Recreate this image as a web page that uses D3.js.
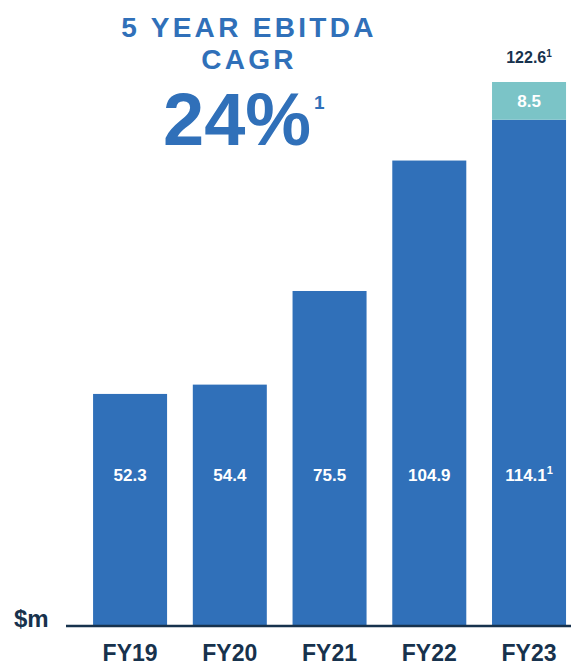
<!DOCTYPE html>
<html>
<head>
<meta charset="utf-8">
<script src="https://cdn.jsdelivr.net/npm/d3@7"></script>
<style>
  html, body { margin: 0; padding: 0; background: #ffffff; }
  svg { display: block; font-family: "Liberation Sans", Arial, Helvetica, sans-serif; }
</style>
</head>
<body>
<svg id="chart" width="571" height="666"></svg>
<script>
// EBITDA by financial year, $m
const categories = ["FY19", "FY20", "FY21", "FY22", "FY23"];
const baseValues = [52.3, 54.4, 75.5, 104.9, 114.1];
const topValues = [0, 0, 0, 0, 8.5];
const baseNotes = ["", "", "", "", "1"];
const totalNotes = ["", "", "", "", "1"];
const unitLabel = "$m";
const titleLines = ["5 YEAR EBITDA", "CAGR"];
const headline = "24%";
const headlineNote = "1";

const BLUE = "#3070b9";
const TEAL = "#7bc4c7";
const NAVY = "#17324d";

const svg = d3.select("#chart");
const baseline = 626;

const x = d3.scaleBand()
  .domain(categories)
  .range([80.2, 578.9])
  .paddingInner(0.258)
  .paddingOuter(0.129);

const y = d3.scaleLinear()
  .domain([0, 122.6])
  .range([baseline, 82]);

const rows = categories.map((c, i) => ({
  cat: c,
  base: baseValues[i],
  top: topValues[i],
  total: +(baseValues[i] + topValues[i]).toFixed(1),
  baseNote: baseNotes[i],
  totalNote: totalNotes[i]
}));

// Base segments
svg.append("g").selectAll("rect")
  .data(rows).join("rect")
  .attr("x", d => x(d.cat))
  .attr("width", x.bandwidth())
  .attr("y", d => y(d.base))
  .attr("height", d => y(0) - y(d.base) + 1)
  .attr("fill", BLUE);

// Upper segments
const upper = rows.filter(d => d.top > 0);
svg.append("g").selectAll("rect")
  .data(upper).join("rect")
  .attr("x", d => x(d.cat))
  .attr("width", x.bandwidth())
  .attr("y", d => y(d.total))
  .attr("height", d => y(d.base) - y(d.total))
  .attr("fill", TEAL);

// Value labels inside the base segments
const baseLbl = svg.append("g").selectAll("text")
  .data(rows).join("text")
  .attr("x", d => x(d.cat) + x.bandwidth() / 2)
  .attr("y", 481)
  .attr("text-anchor", "middle")
  .attr("fill", "#ffffff")
  .attr("font-weight", "bold")
  .attr("font-size", 17);
baseLbl.append("tspan").text(d => d.base.toFixed(1));
baseLbl.filter(d => d.baseNote).append("tspan")
  .attr("font-size", 11).attr("dy", -7).text(d => d.baseNote);

// Labels inside upper segments
svg.append("g").selectAll("text")
  .data(upper).join("text")
  .attr("x", d => x(d.cat) + x.bandwidth() / 2)
  .attr("y", d => (y(d.base) + y(d.total)) / 2 + 6)
  .attr("text-anchor", "middle")
  .attr("fill", "#ffffff")
  .attr("font-weight", "bold")
  .attr("font-size", 17)
  .text(d => d.top.toFixed(1));

// Totals above stacked bars
const totLbl = svg.append("g").selectAll("text")
  .data(upper).join("text")
  .attr("x", d => x(d.cat) + x.bandwidth() / 2)
  .attr("y", d => y(d.total) - 19)
  .attr("text-anchor", "middle")
  .attr("fill", NAVY)
  .attr("font-weight", "bold")
  .attr("font-size", 16);
totLbl.append("tspan").text(d => d.total.toFixed(1));
totLbl.filter(d => d.totalNote).append("tspan")
  .attr("font-size", 10).attr("dy", -6).text(d => d.totalNote);

// Baseline
svg.append("line")
  .attr("x1", 66).attr("x2", 571)
  .attr("y1", baseline).attr("y2", baseline)
  .attr("stroke", NAVY).attr("stroke-width", 2.5);

// Category axis
const xAxis = svg.append("g")
  .attr("transform", `translate(0,${baseline})`)
  .call(d3.axisBottom(x).tickSize(0).tickPadding(0));
xAxis.select(".domain").remove();
xAxis.selectAll("text")
  .attr("y", 35)
  .attr("dy", 0)
  .attr("fill", NAVY)
  .attr("font-family", "\"Liberation Sans\", Arial, sans-serif")
  .attr("font-weight", "bold")
  .attr("font-size", 23);

// Unit label
svg.append("text")
  .attr("x", 14).attr("y", 627)
  .attr("fill", NAVY)
  .attr("font-weight", "bold")
  .attr("font-size", 24)
  .text(unitLabel);

// Headline block
const title = svg.append("g").attr("fill", BLUE).attr("font-weight", "bold");
title.selectAll("text.t")
  .data(titleLines).join("text")
  .attr("class", "t")
  .attr("x", 249)
  .attr("y", (d, i) => 37 + i * 31.5)
  .attr("text-anchor", "middle")
  .attr("font-size", 28)
  .attr("letter-spacing", 3.3)
  .text(d => d);

const big = title.append("text")
  .attr("x", 163).attr("y", 145)
  .attr("font-size", 74);
big.append("tspan").text(headline);
big.append("tspan")
  .attr("font-size", 19).attr("font-weight", "bold")
  .attr("dx", 3).attr("dy", -36).text(headlineNote);
</script>
</body>
</html>
